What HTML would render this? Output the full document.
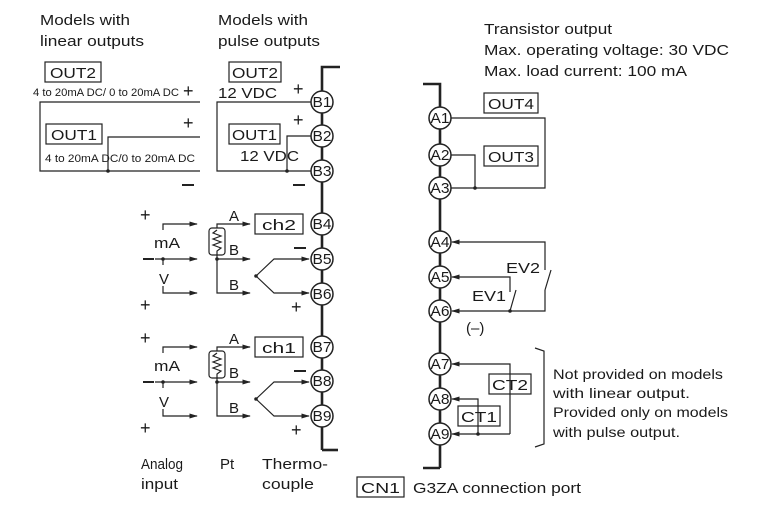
<!DOCTYPE html>
<html><head><meta charset="utf-8"><style>
html,body{margin:0;padding:0;background:#fff}
svg{display:block}
text{font-family:"Liberation Sans",Arial,sans-serif;fill:#1a1a1a}
</style></head><body>
<svg width="772" height="530" viewBox="0 0 772 530" xmlns="http://www.w3.org/2000/svg">
<defs>
<marker id="ar" viewBox="0 0 10 10" refX="9" refY="5" markerWidth="7" markerHeight="7" orient="auto"><path d="M0,2 L10,5 L0,8 z" fill="#222"/></marker>
</defs>
<g stroke="#222" stroke-width="1.3" fill="none">
<!-- B bar -->
<path d="M322,450 V67 H340" stroke-width="2.6"/>
<path d="M322,450 H338" stroke-width="2.6"/>
<!-- A bar -->
<path d="M440,468 V84 H423" stroke-width="2.6"/>
<path d="M440,468 H423" stroke-width="2.6"/>
</g>
<g stroke="#222" stroke-width="1.5" fill="#fff">
<circle cx="322" cy="102" r="11"/><circle cx="322" cy="136" r="11"/><circle cx="322" cy="171" r="11"/>
<circle cx="322" cy="224" r="11"/><circle cx="322" cy="259" r="11"/><circle cx="322" cy="294" r="11"/>
<circle cx="322" cy="347" r="11"/><circle cx="322" cy="381" r="11"/><circle cx="322" cy="416" r="11"/>
<circle cx="440" cy="118" r="11"/><circle cx="440" cy="155" r="11"/><circle cx="440" cy="188" r="11"/>
<circle cx="440" cy="242" r="11"/><circle cx="440" cy="277" r="11"/><circle cx="440" cy="311" r="11"/>
<circle cx="440" cy="364" r="11"/><circle cx="440" cy="399" r="11"/><circle cx="440" cy="434" r="11"/>
</g>
<g font-size="15" text-anchor="middle">
<text x="322" y="107" textLength="19" lengthAdjust="spacingAndGlyphs">B1</text>
<text x="322" y="141" textLength="19" lengthAdjust="spacingAndGlyphs">B2</text>
<text x="322" y="176" textLength="19" lengthAdjust="spacingAndGlyphs">B3</text>
<text x="322" y="229" textLength="19" lengthAdjust="spacingAndGlyphs">B4</text>
<text x="322" y="264" textLength="19" lengthAdjust="spacingAndGlyphs">B5</text>
<text x="322" y="299" textLength="19" lengthAdjust="spacingAndGlyphs">B6</text>
<text x="322" y="352" textLength="19" lengthAdjust="spacingAndGlyphs">B7</text>
<text x="322" y="386" textLength="19" lengthAdjust="spacingAndGlyphs">B8</text>
<text x="322" y="421" textLength="19" lengthAdjust="spacingAndGlyphs">B9</text>
<text x="440" y="123" textLength="19" lengthAdjust="spacingAndGlyphs">A1</text>
<text x="440" y="160" textLength="19" lengthAdjust="spacingAndGlyphs">A2</text>
<text x="440" y="193" textLength="19" lengthAdjust="spacingAndGlyphs">A3</text>
<text x="440" y="247" textLength="19" lengthAdjust="spacingAndGlyphs">A4</text>
<text x="440" y="282" textLength="19" lengthAdjust="spacingAndGlyphs">A5</text>
<text x="440" y="316" textLength="19" lengthAdjust="spacingAndGlyphs">A6</text>
<text x="440" y="369" textLength="19" lengthAdjust="spacingAndGlyphs">A7</text>
<text x="440" y="404" textLength="19" lengthAdjust="spacingAndGlyphs">A8</text>
<text x="440" y="439" textLength="19" lengthAdjust="spacingAndGlyphs">A9</text>
</g>
<!-- headers -->
<g font-size="15">
<text x="40" y="25" textLength="90" lengthAdjust="spacingAndGlyphs">Models with</text>
<text x="40" y="46" textLength="104" lengthAdjust="spacingAndGlyphs">linear outputs</text>
<text x="218" y="25" textLength="90" lengthAdjust="spacingAndGlyphs">Models with</text>
<text x="218" y="46" textLength="102" lengthAdjust="spacingAndGlyphs">pulse outputs</text>
<text x="484" y="34" textLength="128" lengthAdjust="spacingAndGlyphs">Transistor output</text>
<text x="484" y="55" textLength="245" lengthAdjust="spacingAndGlyphs">Max. operating voltage: 30 VDC</text>
<text x="484" y="76" textLength="203" lengthAdjust="spacingAndGlyphs">Max. load current: 100 mA</text>
</g>
<!-- boxes -->
<g stroke="#222" stroke-width="1.2" fill="none">
<rect x="45" y="62" width="56" height="20"/><rect x="46" y="124" width="56" height="20"/>
<rect x="229" y="62" width="52" height="20"/><rect x="229" y="124" width="51" height="20"/>
<rect x="255" y="214" width="48" height="20"/><rect x="255" y="337" width="48" height="20"/>
<rect x="484" y="93" width="54" height="20"/><rect x="484" y="146" width="54" height="20"/>
<rect x="489" y="374" width="42" height="20"/><rect x="458" y="406" width="42" height="20"/>
<rect x="357" y="477" width="47" height="20"/>
</g>
<g font-size="15">
<text x="50" y="78" textLength="46" lengthAdjust="spacingAndGlyphs">OUT2</text>
<text x="51" y="140" textLength="46" lengthAdjust="spacingAndGlyphs">OUT1</text>
<text x="232" y="78" textLength="46" lengthAdjust="spacingAndGlyphs">OUT2</text>
<text x="232" y="140" textLength="45" lengthAdjust="spacingAndGlyphs">OUT1</text>
<text x="262" y="230" textLength="34" lengthAdjust="spacingAndGlyphs">ch2</text>
<text x="262" y="353" textLength="34" lengthAdjust="spacingAndGlyphs">ch1</text>
<text x="488" y="109" textLength="46" lengthAdjust="spacingAndGlyphs">OUT4</text>
<text x="488" y="162" textLength="46" lengthAdjust="spacingAndGlyphs">OUT3</text>
<text x="492" y="390" textLength="36" lengthAdjust="spacingAndGlyphs">CT2</text>
<text x="461" y="422" textLength="36" lengthAdjust="spacingAndGlyphs">CT1</text>
<text x="361" y="493" textLength="39" lengthAdjust="spacingAndGlyphs">CN1</text>
<text x="413" y="493" textLength="168" lengthAdjust="spacingAndGlyphs">G3ZA connection port</text>
<text x="218" y="98" textLength="59" lengthAdjust="spacingAndGlyphs">12 VDC</text>
<text x="240" y="161" textLength="59" lengthAdjust="spacingAndGlyphs">12 VDC</text>
<text x="154" y="248" textLength="26" lengthAdjust="spacingAndGlyphs">mA</text>
<text x="159" y="284">V</text>
<text x="154" y="371" textLength="26" lengthAdjust="spacingAndGlyphs">mA</text>
<text x="159" y="407">V</text>
<text x="229" y="221">A</text><text x="229" y="255">B</text><text x="229" y="290">B</text>
<text x="229" y="344">A</text><text x="229" y="378">B</text><text x="229" y="413">B</text>
<text x="506" y="273" textLength="34" lengthAdjust="spacingAndGlyphs">EV2</text>
<text x="472" y="301" textLength="34" lengthAdjust="spacingAndGlyphs">EV1</text>
<text x="466" y="333">(–)</text>
<text x="141" y="469" textLength="42" lengthAdjust="spacingAndGlyphs">Analog</text>
<text x="141" y="489" textLength="37" lengthAdjust="spacingAndGlyphs">input</text>
<text x="220" y="469">Pt</text>
<text x="262" y="469" textLength="66" lengthAdjust="spacingAndGlyphs">Thermo-</text>
<text x="262" y="489" textLength="52" lengthAdjust="spacingAndGlyphs">couple</text>
</g>
<g font-size="14">
<text x="553" y="379" textLength="170" lengthAdjust="spacingAndGlyphs">Not provided on models</text>
<text x="553" y="398" textLength="137" lengthAdjust="spacingAndGlyphs">with linear output.</text>
<text x="553" y="417" textLength="175" lengthAdjust="spacingAndGlyphs">Provided only on models</text>
<text x="553" y="437" textLength="127" lengthAdjust="spacingAndGlyphs">with pulse output.</text>
</g>
<g font-size="11">
<text x="33" y="96" textLength="146" lengthAdjust="spacingAndGlyphs">4 to 20mA DC/ 0 to 20mA DC</text>
<text x="45" y="162" textLength="150" lengthAdjust="spacingAndGlyphs">4 to 20mA DC/0 to 20mA DC</text>
</g>
<g font-size="18">
<text x="183" y="97">+</text><text x="183" y="129">+</text>
<text x="293" y="95">+</text><text x="293" y="126">+</text>
<text x="140" y="221">+</text><text x="140" y="311">+</text>
<text x="140" y="344">+</text><text x="140" y="434">+</text>
<text x="291" y="313">+</text><text x="291" y="436">+</text>
</g>
<g stroke="#222" stroke-width="2" fill="none">
<path d="M182,185 H194"/><path d="M293,185 H305"/>
<path d="M143,259 H154"/><path d="M143,382 H154"/>
<path d="M294,248 H306"/><path d="M294,371 H306"/>
</g>
<!-- wiring -->
<g stroke="#222" stroke-width="1.2" fill="none">
<path d="M200,102 H40 V171 H200"/>
<path d="M200,137 H108 V171"/>
<path d="M311,102 H217 V171 H311"/>
<path d="M311,136 H287 V171"/>
<!-- ch2 analog -->
<path d="M163,230 V224 H197" marker-end="url(#ar)"/>
<path d="M155,259 H197" marker-end="url(#ar)"/>
<path d="M163,259 V265"/>
<path d="M163,286 V293 H197" marker-end="url(#ar)"/>
<path d="M217,228 V224 H250" marker-end="url(#ar)"/>
<path d="M217,255 V293 H250" marker-end="url(#ar)"/>
<path d="M217,259 H250" marker-end="url(#ar)"/>
<rect x="209" y="228" width="16" height="27" rx="3"/>
<path d="M217,230 l-4,3 l8,3 l-8,3 l8,3 l-8,3 l8,3 l-4,3 V255"/>
<path d="M256,276 L274,259 H309" marker-end="url(#ar)"/>
<path d="M256,276 L274,293 H309" marker-end="url(#ar)"/>
<!-- ch1 -->
<path d="M163,353 V347 H197" marker-end="url(#ar)"/>
<path d="M155,382 H197" marker-end="url(#ar)"/>
<path d="M163,382 V388"/>
<path d="M163,409 V416 H197" marker-end="url(#ar)"/>
<path d="M217,351 V347 H250" marker-end="url(#ar)"/>
<path d="M217,378 V416 H250" marker-end="url(#ar)"/>
<path d="M217,382 H250" marker-end="url(#ar)"/>
<rect x="209" y="351" width="16" height="27" rx="3"/>
<path d="M217,353 l-4,3 l8,3 l-8,3 l8,3 l-8,3 l8,3 l-4,3 V378"/>
<path d="M256,399 L274,382 H309" marker-end="url(#ar)"/>
<path d="M256,399 L274,416 H309" marker-end="url(#ar)"/>
<!-- right -->
<path d="M451,118 H545 V188 H451"/>
<path d="M451,155 H475 V188"/>
<path d="M545,270 V242 H452" marker-end="url(#ar)"/>
<path d="M545,290 L551,270"/>
<path d="M545,290 V311 H452" marker-end="url(#ar)"/>
<path d="M510,292 V277 H452" marker-end="url(#ar)"/>
<path d="M510,311 L516,290"/>
<path d="M510,434 V364 H452" marker-end="url(#ar)"/>
<path d="M478,434 V399 H452" marker-end="url(#ar)"/>
<path d="M510,434 H452" marker-end="url(#ar)"/>
<path d="M535,348 L544,351 V444 L535,447"/>
</g>
<g fill="#222">
<circle cx="108" cy="171" r="1.8"/><circle cx="287" cy="171" r="1.8"/>
<circle cx="163" cy="259" r="1.8"/><circle cx="217" cy="259" r="1.8"/><circle cx="256" cy="276" r="1.8"/>
<circle cx="163" cy="382" r="1.8"/><circle cx="217" cy="382" r="1.8"/><circle cx="256" cy="399" r="1.8"/>
<circle cx="475" cy="188" r="1.8"/><circle cx="510" cy="311" r="1.8"/><circle cx="478" cy="434" r="1.8"/>
</g>
</svg>
</body></html>
